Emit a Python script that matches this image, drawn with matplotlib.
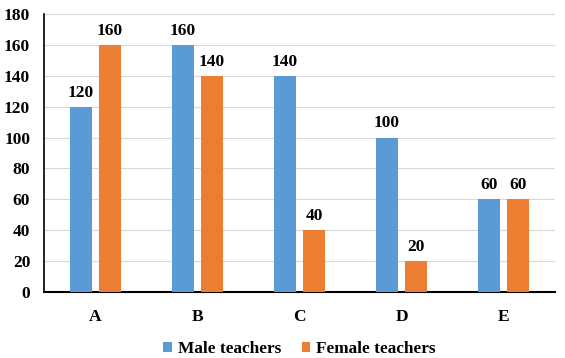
import matplotlib.pyplot as plt
import numpy as np

# data
categories = ["A", "B", "C", "D", "E"]
male = [120, 160, 140, 100, 60]
female = [160, 140, 40, 20, 60]

BLUE = "#5B9BD5"
ORANGE = "#ED7D31"

plt.rcParams["font.family"] = ["Liberation Serif", "DejaVu Serif"]
plt.rcParams["font.weight"] = "bold"

fig = plt.figure(figsize=(5.65, 3.58), dpi=100)
ax = fig.add_axes([0.078, 0.184, 0.904, 0.777])

x = np.arange(len(categories))
w = 0.215
off = 0.143
b1 = ax.bar(x - off, male, w, color=BLUE, label="Male teachers", zorder=3)
b2 = ax.bar(x + off, female, w, color=ORANGE, label="Female teachers", zorder=3)

for bars in (b1, b2):
    for r in bars:
        ax.text(r.get_x() + r.get_width() / 2, r.get_height() + 4,
                str(int(r.get_height())), ha="center", va="bottom",
                fontsize=12.5, fontweight="bold")

ax.set_xlim(-0.5, 4.5)
ax.set_ylim(0, 180)
ax.set_yticks(range(0, 181, 20))
ax.set_xticks(x)
ax.set_xticklabels(categories)
ax.yaxis.grid(True, color="#d9d9d9", linewidth=0.8, zorder=0)
ax.set_axisbelow(True)

for s in ("top", "right"):
    ax.spines[s].set_visible(False)
ax.spines["left"].set_linewidth(1.2)
ax.spines["bottom"].set_linewidth(1.5)
ax.tick_params(axis="both", length=0, labelsize=12.5)
ax.tick_params(axis="x", pad=12)
ax.tick_params(axis="y", pad=10)
for lbl in ax.get_xticklabels() + ax.get_yticklabels():
    lbl.set_fontweight("bold")

# legend centred under the plot area
fig.legend(loc="lower center", bbox_to_anchor=(0.53, -0.04), ncol=2,
           frameon=False, handlelength=0.5, handleheight=0.5,
           handletextpad=0.35, columnspacing=1.2,
           prop={"size": 12.4, "weight": "bold"})

fig.savefig("out.png", dpi=100)
